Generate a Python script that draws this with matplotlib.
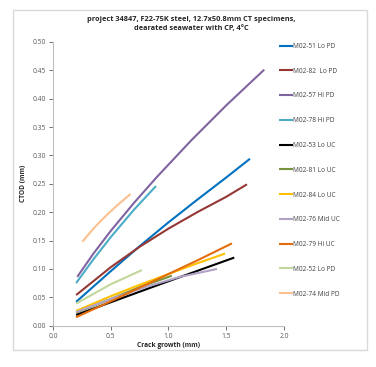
import numpy as np
import matplotlib
matplotlib.use('Agg')
import matplotlib.pyplot as plt
from matplotlib.patches import Rectangle

plt.rcParams['font.family'] = ['Open Sans', 'DejaVu Sans']

# dados (crack growth mm, CTOD mm)
labels = ['M02-51 Lo PD', 'M02-82  Lo PD', 'M02-57 Hi PD', 'M02-78 Hi PD',
          'M02-53 Lo UC', 'M02-81 Lo UC', 'M02-84 Lo UC', 'M02-76 Mid UC',
          'M02-79 Hi UC', 'M02-52 Lo PD', 'M02-74 Mid PD']
colors = ['#0070C0', '#953735', '#8064A2', '#4BACC6', '#000000', '#77933C',
          '#FFC000', '#B3A2C7', '#E46C0A', '#C3D69B', '#FAC090']

x51 = [0.2, 0.5, 0.75, 1.0, 1.25, 1.5, 1.706]
y51 = [0.042, 0.096, 0.140, 0.182, 0.222, 0.261, 0.294]
x82 = [0.2, 0.5, 0.75, 1.0, 1.25, 1.5, 1.68]
y82 = [0.054, 0.103, 0.139, 0.171, 0.200, 0.227, 0.249]
x57 = [0.21, 0.35, 0.5, 0.7, 0.9, 1.2, 1.5, 1.83]
y57 = [0.086, 0.127, 0.167, 0.216, 0.262, 0.327, 0.388, 0.451]
x78 = [0.2, 0.35, 0.5, 0.7, 0.892]
y78 = [0.075, 0.117, 0.156, 0.204, 0.246]
x53 = [0.2, 0.9, 1.57]
y53 = [0.019, 0.071, 0.120]
x81 = [0.2, 0.5, 0.75, 1.03]
y81 = [0.023, 0.047, 0.068, 0.088]
x84 = [0.2, 0.5, 0.75, 1.0, 1.25, 1.49]
y84 = [0.026, 0.052, 0.072, 0.091, 0.110, 0.127]
x76 = [0.2, 0.5, 0.8, 1.1, 1.42]
y76 = [0.024, 0.047, 0.068, 0.086, 0.100]
x79 = [0.2, 0.5, 0.75, 1.0, 1.25, 1.55]
y79 = [0.015, 0.043, 0.067, 0.091, 0.115, 0.145]
x52 = [0.2, 0.5, 0.77]
y52 = [0.039, 0.073, 0.098]
x74 = [0.254, 0.35, 0.45, 0.55, 0.672]
y74 = [0.148, 0.171, 0.192, 0.211, 0.232]

xs = [x51, x82, x57, x78, x53, x81, x84, x76, x79, x52, x74]
ys = [y51, y82, y57, y78, y53, y81, y84, y76, y79, y52, y74]

fig = plt.figure(figsize=(3.76, 3.67), dpi=100)
ax = fig.add_axes([0.141, 0.1125, 0.614, 0.7735])

for x, y, c, lab in zip(xs, ys, colors, labels):
    ax.plot(x, y, color=c, lw=1.5, label=lab, solid_capstyle='butt')

ax.set_xlim(0, 2.0)
ax.set_ylim(0, 0.5)
ax.set_xticks(np.arange(0, 2.01, 0.5))
ax.set_yticks(np.arange(0, 0.501, 0.05))
ax.xaxis.set_major_formatter(matplotlib.ticker.FormatStrFormatter('%.1f'))
ax.yaxis.set_major_formatter(matplotlib.ticker.FormatStrFormatter('%.2f'))
ax.tick_params(labelsize=4.9, colors='#595959', length=3, width=0.6, pad=2)
for s in ['top', 'right']:
    ax.spines[s].set_visible(False)
for s in ['left', 'bottom']:
    ax.spines[s].set_color('#BFBFBF')
    ax.spines[s].set_linewidth(0.8)

ax.set_xlabel('Crack growth (mm)', fontsize=4.8, fontweight='bold', color='#262626', labelpad=2)
ax.set_ylabel('CTOD (mm)', fontsize=4.8, fontweight='bold', color='#262626', labelpad=4)

fig.text(0.508, 0.935, 'project 34847, F22-75K steel, 12.7x50.8mm CT specimens,\ndearated seawater with CP, 4°C',
         ha='center', va='center', fontsize=5.3, fontweight='bold', color='#262626', linespacing=1.45)

leg = fig.legend(loc='upper left', bbox_to_anchor=(0.735, 0.89), fontsize=4.7, frameon=False,
                 labelspacing=2.72, handlelength=2.1, handletextpad=0.1, borderaxespad=0)
for t in leg.get_texts():
    t.set_color('#404040')

# moldura do grafico
fig.patches.append(Rectangle((0.0346, 0.0463), 0.941, 0.926, transform=fig.transFigure,
                             fill=False, edgecolor='#D9D9D9', lw=1.0))

fig.savefig('out.png', dpi=100)
